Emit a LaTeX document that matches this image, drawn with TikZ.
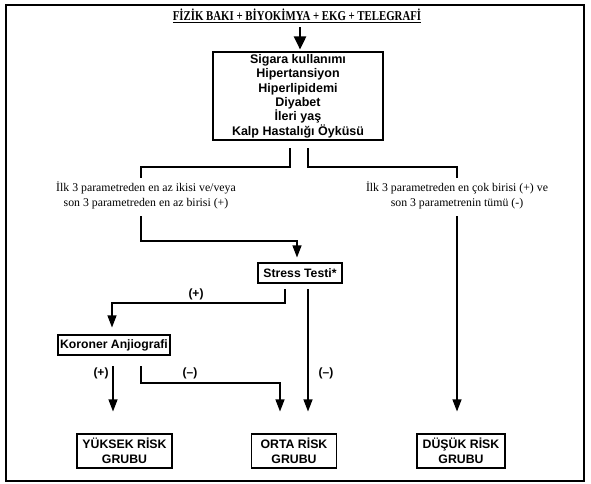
\documentclass[tikz,border=0pt]{standalone}
\usepackage{fontspec}
\setmainfont{Liberation Serif}
\setsansfont{Liberation Sans}
\usetikzlibrary{arrows.meta,calc}
\begin{document}
\begin{tikzpicture}[x=1pt,y=-1pt,
  conn/.style={line width=1.1pt},
  arr/.style={conn,-{Triangle[width=9pt,length=12pt]}},
  bigarr/.style={line width=2.6pt,-{Triangle[width=12pt,length=13pt]}},
  factors/.style={draw,line width=1.1pt,font=\sffamily\bfseries\fontsize{12.5}{14.4}\selectfont,align=center,inner sep=0pt,minimum width=170pt,minimum height=88pt},
  smallbox/.style={draw,line width=1.1pt,font=\sffamily\bfseries\fontsize{12.2}{14}\selectfont,align=center,inner sep=0pt,minimum height=20pt},
  riskbox/.style={draw,line width=1.1pt,font=\sffamily\bfseries\fontsize{12.3}{15.5}\selectfont,align=center,inner sep=0pt,minimum height=34pt},
  crit/.style={font=\fontsize{11.8}{15}\selectfont,align=center,inner sep=0pt},
  sign/.style={font=\sffamily\bfseries\fontsize{12}{13}\selectfont,inner sep=0pt}
]
\useasboundingbox (0,0) rectangle (591,483);
\draw[line width=1.4pt] (6,5) rectangle (584,481);

% title
\node[font=\bfseries\fontsize{13.5}{15}\selectfont,inner sep=0pt] (title) at (297,16) {\scalebox{0.8}[1]{\underline{FİZİK BAKI + BİYOKİMYA + EKG + TELEGRAFİ}}};

% factor box
\node[factors] (risk) at (298,96) {Sigara kullanımı\\Hipertansiyon\\Hiperlipidemi\\Diyabet\\İleri yaş\\Kalp Hastalığı Öyküsü};
\coordinate (t0) at (300,27);
\draw[bigarr,shorten >=2pt] (t0) -- (risk.north -| t0);

% criteria texts
\node[crit] (lt) at (146,195) {İlk 3 parametreden en az ikisi ve/veya\\son 3 parametreden en az birisi (+)};
\node[crit] (rt) at (457,195) {İlk 3 parametreden en çok birisi (+) ve\\son 3 parametrenin tümü (-)};

\coordinate (a1) at (290,148);
\coordinate (a2) at (141,178);
\coordinate (b1) at (308,148);
\coordinate (b2) at (457,178);
\draw[conn] (a1) -- ++(0,19) -| (a2);
\draw[conn] (b1) -- ++(0,19) -| (b2);

% stress test
\node[smallbox,minimum width=84pt] (stress) at (300,273) {Stress Testi*};
\coordinate (c1) at (141,216);
\coordinate (c2) at (297,241);
\draw[arr,shorten >=5pt] (c1) |- (c2) -- (stress.north -| c2);

% koroner
\node[smallbox,minimum width=112pt] (kor) at (114,345) {Koroner Anjiografi};
\coordinate (s1) at (285,283);
\coordinate (s2) at (308,283);
\coordinate (k1) at (112,303);
\draw[arr,shorten <=6pt,shorten >=7pt] (s1) |- (k1) -- (kor.north -| k1);
\node[sign] (p1) at (196,294) {(+)};

% risk groups
\node[riskbox,minimum width=95pt] (high) at (124.5,451) {YÜKSEK RİSK\\GRUBU};
\node[riskbox,minimum width=85pt] (mid) at (294,451) {ORTA RİSK\\GRUBU};
\node[riskbox,minimum width=88pt] (low) at (461,451) {DÜŞÜK RİSK\\GRUBU};

\draw[arr,shorten <=6pt,shorten >=22pt] (s2) -- (mid.north -| s2);
\node[sign] (m2) at (326,373) {(–)};

\coordinate (d1) at (113,354);
\coordinate (d2) at (141,354);
\coordinate (d3) at (280,383);
\draw[arr,shorten <=12pt,shorten >=22pt] (d1) -- (high.north -| d1);
\node[sign] (p2) at (101,373) {(+)};
\draw[arr,shorten <=12pt,shorten >=22pt] (d2) |- (d3) -- (mid.north -| d3);
\node[sign] (m1) at (190,373) {(–)};

\coordinate (e1) at (457,216);
\draw[arr,shorten >=22pt] (e1) -- (low.north -| e1);
\end{tikzpicture}
\end{document}
